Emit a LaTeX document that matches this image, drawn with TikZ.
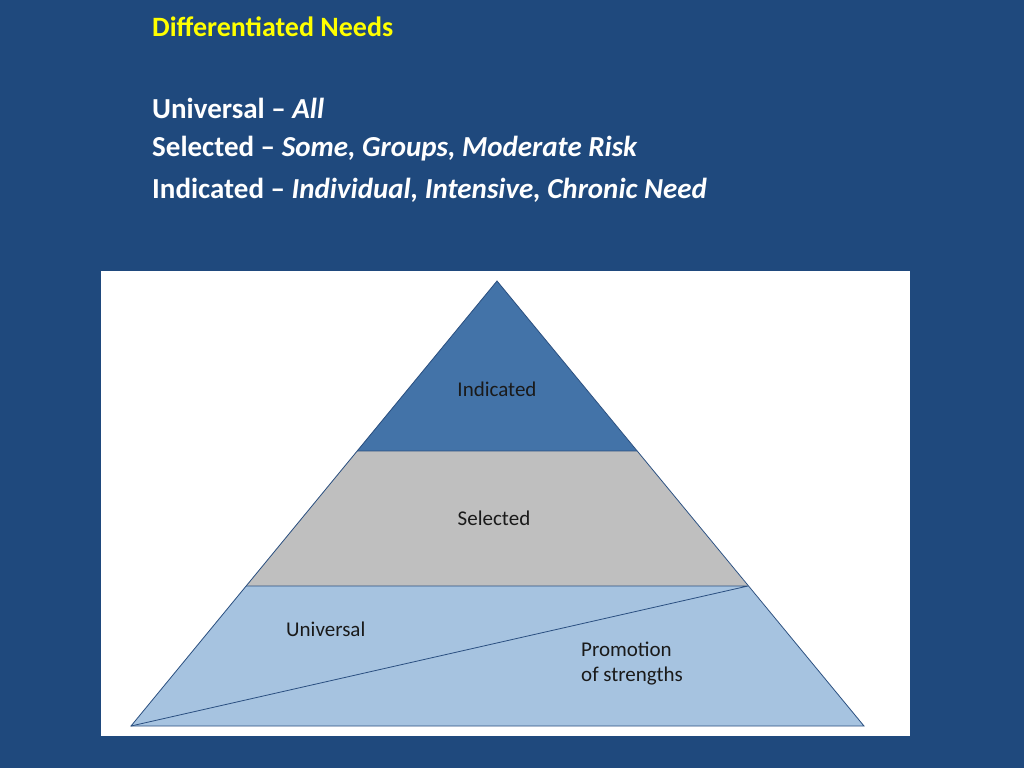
\documentclass[tikz,border=0pt]{standalone}
\usepackage{fontspec}
\setmainfont{Carlito}
\definecolor{bg}{HTML}{1F497D}
\definecolor{ttl}{HTML}{FFFF00}
\definecolor{topc}{HTML}{4373A8}
\definecolor{midc}{HTML}{BFBFBF}
\definecolor{botc}{HTML}{A6C3E0}
\definecolor{edge}{HTML}{2A4F80}
\definecolor{lbl}{HTML}{1A1A1A}
\tikzset{body/.style={anchor=west,text=white,font=\fontsize{29}{32}\selectfont\bfseries,inner sep=0pt},
lab/.style={text=lbl,font=\fontsize{21}{25}\selectfont,inner sep=0pt,align=left}}
\begin{document}
\begin{tikzpicture}[x=1pt,y=-1pt]
\fill[bg] (0,0) rectangle (1024,768);
\useasboundingbox (0,0) rectangle (1024,768);
\fill[white] (101,271) rectangle (910,736);
\coordinate (A) at (497,281);
\coordinate (L) at (131,726);
\coordinate (R) at (864,726);
\coordinate (l1) at (357,451); \coordinate (r1) at (637,451);
\coordinate (l2) at (246,586); \coordinate (r2) at (748,586);
\fill[topc] (A)--(r1)--(l1)--cycle;
\fill[midc] (l1)--(r1)--(r2)--(l2)--cycle;
\fill[botc] (l2)--(r2)--(R)--(L)--cycle;
\draw[edge,line width=0.8pt] (A)--(R)--(L)--cycle;
\draw[edge,line width=0.8pt] (l1)--(r1) (l2)--(r2) (L)--(r2);
\node[anchor=west,text=ttl,font=\fontsize{28}{32}\selectfont\bfseries,inner sep=0pt] (t) at (152,27) {Differentiated Needs};
\node[body] (u) at (152,108) {Universal – \textit{All}};
\node[body] (s) at (152,149) {Selected – \textit{Some, Groups, Moderate Risk}};
\node[body] (i) at (152,190) {Indicated – \textit{Individual, Intensive, Chronic Need}};
\node[lab] (ni) at (497,389) {Indicated};
\node[lab] (ns) at (494,518) {Selected};
\node[lab,anchor=west] (nu) at (286,629) {Universal};
\node[lab,anchor=north west] (np) at (581,642) {Promotion\\of strengths};
\end{tikzpicture}
\end{document}
